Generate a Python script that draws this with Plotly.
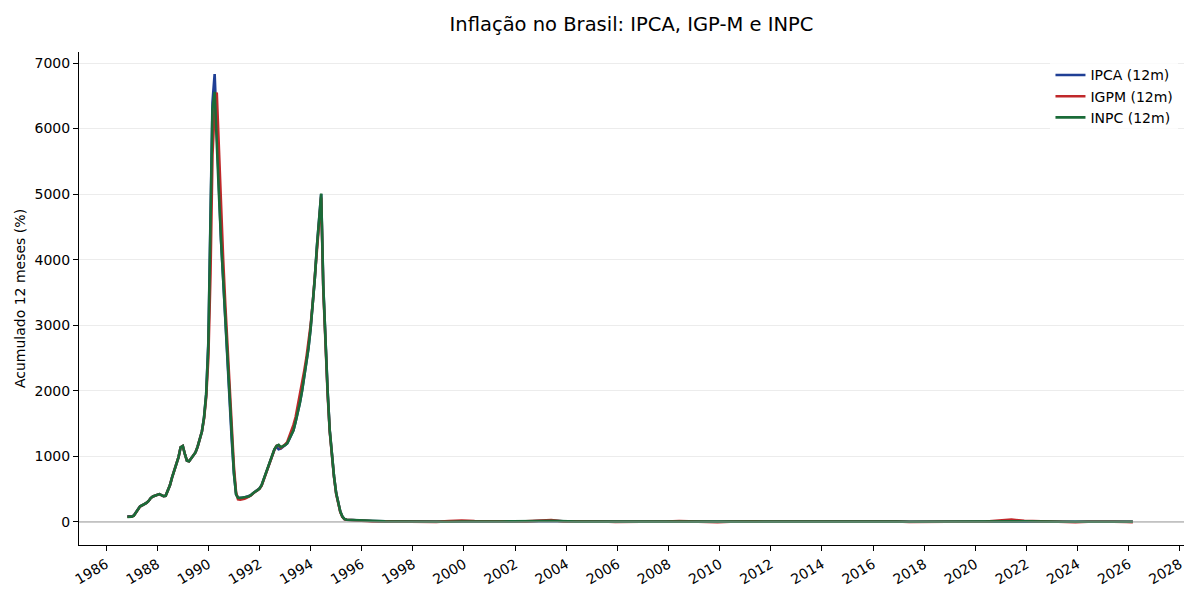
import pandas as pd
import plotly.graph_objects as go

# monthly 12m accumulated (%), Nov 1986 - Dec 1995
meses = pd.date_range("1986-11-01", "1995-12-01", freq="MS")

ipca_m = [
    85, 85,
    85, 100, 150, 200, 240, 255, 270, 290, 320, 365, 390, 400,
    415, 425, 410, 395, 400, 470, 560, 680, 780, 870, 990, 1140,
    1160, 1030, 935, 925, 970, 1010, 1060, 1150, 1260, 1380, 1600, 1950,
    2750, 4800, 6400, 6830, 6000, 5000, 4300, 3700, 3050, 2450, 1850, 1250,
    750, 420, 370, 365, 370, 375, 385, 390, 410, 440, 465, 480,
    510, 560, 650, 750, 840, 940, 1030, 1100, 1150, 1110, 1120, 1150,
    1170, 1200, 1260, 1330, 1400, 1530, 1660, 1820, 2000, 2200, 2420, 2650,
    2950, 3300, 3700, 4200, 4600, 5000, 3600, 2700, 2000, 1400, 1000, 700,
    440, 280, 160, 80, 45, 34, 32, 30, 28, 26, 24, 22,
]
igpm_m = [
    80, 80,
    80, 95, 145, 195, 235, 255, 270, 290, 320, 365, 390, 400,
    415, 425, 410, 395, 400, 470, 560, 680, 780, 870, 990, 1140,
    1160, 1030, 935, 925, 970, 1010, 1060, 1150, 1260, 1380, 1580, 1900,
    2500, 3800, 5600, 6300, 6550, 5600, 4700, 4000, 3300, 2700, 2000, 1400,
    850, 450, 345, 340, 345, 355, 370, 385, 405, 435, 460, 475,
    505, 555, 645, 750, 840, 940, 1030, 1100, 1160, 1170, 1130, 1150,
    1180, 1220, 1300, 1380, 1480, 1600, 1760, 1920, 2100, 2300, 2500, 2720,
    3000, 3350, 3750, 4200, 4600, 4950, 3550, 2650, 1950, 1380, 980, 690,
    430, 270, 150, 75, 42, 33, 31, 29, 27, 25, 22, 15,
]
inpc_m = [
    78, 78,
    80, 95, 145, 195, 238, 255, 270, 290, 320, 365, 390, 400,
    415, 425, 410, 395, 400, 470, 560, 680, 780, 870, 990, 1140,
    1160, 1030, 935, 925, 970, 1010, 1060, 1150, 1260, 1380, 1600, 1950,
    2700, 4600, 6300, 6560, 5900, 5000, 4300, 3700, 3050, 2450, 1850, 1250,
    750, 420, 370, 365, 370, 375, 385, 390, 410, 440, 465, 480,
    510, 560, 650, 750, 840, 940, 1030, 1110, 1160, 1175, 1140, 1150,
    1170, 1200, 1260, 1330, 1400, 1530, 1660, 1820, 2000, 2200, 2420, 2650,
    2950, 3300, 3700, 4200, 4600, 5010, 3600, 2700, 2000, 1400, 1000, 700,
    440, 280, 160, 80, 45, 34, 32, 30, 28, 26, 24, 22,
]

# semiannual readings after the Real plan
datas_pos = [
    "1996-06", "1996-12", "1997-06", "1997-12", "1998-06", "1998-12", "1999-06", "1999-12",
    "2000-06", "2000-12", "2001-06", "2001-12", "2002-06", "2002-12", "2003-06", "2003-12",
    "2004-06", "2004-12", "2005-06", "2005-12", "2006-06", "2006-12", "2007-06", "2007-12",
    "2008-06", "2008-12", "2009-06", "2009-12", "2010-06", "2010-12", "2011-06", "2011-12",
    "2012-06", "2012-12", "2013-06", "2013-12", "2014-06", "2014-12", "2015-06", "2015-12",
    "2016-06", "2016-12", "2017-06", "2017-12", "2018-06", "2018-12", "2019-06", "2019-12",
    "2020-06", "2020-12", "2021-06", "2021-12", "2022-06", "2022-12", "2023-06", "2023-12",
    "2024-06", "2024-12", "2025-06", "2025-12", "2026-03",
]
ipca_pos = [
    15, 9.6, 7, 5.2, 4.5, 1.7, 3.3, 8.9, 6.5, 6.0, 7.4, 7.7, 7.7, 12.5, 16.6, 9.3,
    6.1, 7.6, 7.3, 5.7, 4.0, 3.1, 3.7, 4.5, 6.1, 5.9, 4.8, 4.3, 4.8, 5.9, 6.7, 6.5,
    4.9, 5.8, 6.7, 5.9, 6.5, 6.4, 8.9, 10.7, 8.8, 6.3, 3.0, 2.9, 4.4, 3.8, 3.4, 4.3,
    2.1, 4.5, 8.4, 10.1, 11.9, 5.8, 3.2, 4.6, 4.2, 4.8, 5.4, 4.3, 4.0,
]
igpm_pos = [
    10, 9.2, 8, 7.7, 4.5, 1.8, 12.5, 20.1, 14, 10, 10.5, 10.4, 9.8, 25.3, 30, 8.7,
    10.5, 12.4, 6.5, 1.2, 0.6, 3.8, 4.3, 7.8, 13.4, 9.8, -0.7, -1.7, 5.2, 11.3, 8.6, 5.1,
    5.0, 7.8, 6.3, 5.5, 6.2, 3.7, 5.6, 10.5, 12.2, 7.2, -0.8, -0.5, 6.9, 7.5, 6.5, 7.3,
    7.3, 23.1, 35.8, 17.8, 10.7, 5.5, -6.9, -3.2, 2.5, 6.5, 4.4, -1.0, -1.5,
]
inpc_pos = [
    16, 9.1, 6.5, 4.3, 3.7, 2.5, 3.0, 8.4, 5.4, 5.3, 7.9, 9.4, 7.4, 14.7, 19.5, 10.4,
    5.2, 6.1, 6.8, 5.0, 2.7, 2.8, 3.7, 5.2, 7.3, 6.5, 4.6, 4.1, 4.8, 6.5, 6.8, 6.1,
    5.0, 6.2, 6.9, 5.6, 6.1, 6.2, 9.3, 11.3, 9.5, 6.6, 2.6, 2.1, 3.5, 3.4, 3.3, 4.5,
    2.4, 5.4, 9.2, 10.2, 11.9, 5.9, 3.0, 3.7, 3.7, 4.8, 5.4, 3.9, 3.8,
]

datas = list(meses) + list(pd.to_datetime(datas_pos))

series = [
    ("IPCA (12m)", ipca_m + ipca_pos, "#1f3f95"),
    ("IGPM (12m)", igpm_m + igpm_pos, "#c0282a"),
    ("INPC (12m)", inpc_m + inpc_pos, "#1a6b38"),
]

fig = go.Figure()
for nome, vals, cor in series:
    fig.add_trace(go.Scatter(x=datas, y=vals, mode="lines", name=nome,
        line=dict(color=cor, width=2.6)))

fig.add_hline(y=0, line=dict(color="#9a9a9a", width=1))

# page body has an 8px margin, so the figure is 8px smaller each way
fnt = dict(family="DejaVu Sans", size=14, color="black")
fig.update_layout(
    width=1192, height=592,
    plot_bgcolor="white", paper_bgcolor="white",
    margin=dict(l=71, r=16, t=44, b=55),
    font=fnt,
    title=dict(text="Inflação no Brasil: IPCA, IGP-M e INPC", x=0.5, xref="paper",
        y=0.973, yanchor="middle", font=dict(family="DejaVu Sans", size=19.5, color="black")),
    legend=dict(x=0.995, y=0.985, xanchor="right", yanchor="top",
        bgcolor="rgba(255,255,255,0.8)", font=fnt, tracegroupgap=0),
    showlegend=True,
)
fig.update_xaxes(
    range=["1984-12-10", "2028-03-01"], type="date", automargin=False,
    tick0="1986-01-01", dtick="M24", tickformat="%Y", tickangle=-30,
    showgrid=False, zeroline=False, showline=True, linecolor="black", linewidth=1,
    ticks="outside", ticklen=5, tickcolor="black",
)
fig.update_yaxes(
    range=[-351, 7168], dtick=1000, automargin=False,
    title=dict(text="Acumulado 12 meses (%)", font=fnt, standoff=5),
    showgrid=True, gridcolor="#ececec", gridwidth=1, zeroline=False,
    showline=True, linecolor="black", linewidth=1,
    ticks="outside", ticklen=5, tickcolor="black",
)

fig.write_html("out.html")
